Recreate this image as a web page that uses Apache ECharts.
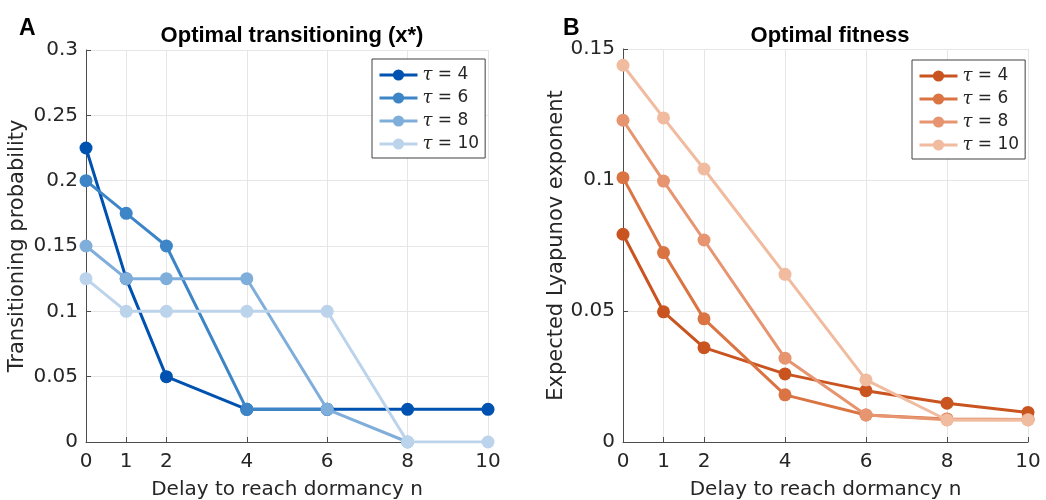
<!DOCTYPE html>
<html>
<head>
<meta charset="utf-8">
<script src="https://cdn.jsdelivr.net/npm/echarts@6/dist/echarts.min.js"></script>
<style>
  html, body { margin: 0; padding: 0; background: #fff; }
  #chart { width: 1046px; height: 500px; }
</style>
</head>
<body>
<div id="chart"></div>
<script>
// delay n values (x axis, same for both panels)
var nVals = [0, 1, 2, 4, 6, 8, 10];
var tauNames = ['τ = 4', 'τ = 6', 'τ = 8', 'τ = 10'];

// panel A: optimal transitioning probability x*
var probTau4 = [0.225, 0.125, 0.05, 0.025, 0.025, 0.025, 0.025];
var probTau6 = [0.2, 0.175, 0.15, 0.025, 0.025, null, null];
var probTau8 = [0.15, 0.125, 0.125, 0.125, 0.025, 0, null];
var probTau10 = [0.125, 0.1, 0.1, 0.1, 0.1, 0, 0];

// panel B: expected Lyapunov exponent
var fitTau4 = [0.0793, 0.0497, 0.036, 0.026, 0.0196, 0.0148, 0.0113];
var fitTau6 = [0.1009, 0.0723, 0.047, 0.018, 0.0103, 0.0088, 0.0086];
var fitTau8 = [0.1228, 0.0996, 0.0771, 0.032, 0.0103, 0.0085, 0.0085];
var fitTau10 = [0.1438, 0.1237, 0.1042, 0.064, 0.0237, 0.0084, 0.0084];

var blues = ['#0052b0', '#3d85c6', '#80aedb', '#bcd3ec'];
var oranges = ['#c9541f', '#da7443', '#e69570', '#f1bb9f'];

var FONT = '"DejaVu Sans", sans-serif';
var BOLD = '"Liberation Sans", Arial, sans-serif';
var chart = echarts.init(document.getElementById('chart'));

function pairs(arr) {
  return nVals.map(function (n, i) { return [n, arr[i]]; });
}

function xAxisOpt(idx) {
  return {
    type: 'value', gridIndex: idx, min: 0, max: 10,
    name: 'Delay to reach dormancy n', nameLocation: 'middle', nameGap: 38,
    nameTextStyle: { fontSize: 20, color: '#262626', fontFamily: FONT },
    axisLine: { lineStyle: { color: '#4d4d4d' } },
    axisTick: { inside: true, length: 5, customValues: nVals, lineStyle: { color: '#4d4d4d' } },
    axisLabel: { customValues: nVals, fontSize: 20, color: '#262626', fontFamily: FONT, margin: 10 },
    splitLine: { show: true, customValues: nVals, lineStyle: { color: '#e6e6e6' } }
  };
}

function yAxisOpt(idx, max, name, gap) {
  return {
    type: 'value', gridIndex: idx, min: 0, max: max, interval: 0.05,
    name: name, nameLocation: 'middle', nameGap: gap,
    nameTextStyle: { fontSize: 21, color: '#262626', fontFamily: FONT },
    axisLine: { show: true, lineStyle: { color: '#4d4d4d' } },
    axisTick: { show: true, inside: true, length: 5, lineStyle: { color: '#4d4d4d' } },
    axisLabel: { fontSize: 20, color: '#262626', fontFamily: FONT, margin: 8 },
    splitLine: { show: true, lineStyle: { color: '#e6e6e6' } }
  };
}

function lineSeries(name, idx, arr, color, z) {
  return {
    type: 'line', name: name, xAxisIndex: idx, yAxisIndex: idx,
    data: pairs(arr), z: z,
    symbol: 'circle', symbolSize: 13, showSymbol: true,
    itemStyle: { color: color },
    lineStyle: { color: color, width: 3 },
    emphasis: { disabled: true }
  };
}

function legendOpt(idx, left, top) {
  return {
    orient: 'vertical', left: left, top: top,
    data: tauNames.map(function (n) { return idx === 0 ? n : n + ' '; }),
    itemWidth: 38, itemHeight: 14, itemGap: 3,
    padding: [6, 6, 4, 6],
    borderColor: '#404040', borderWidth: 1, backgroundColor: '#fff',
    selectedMode: false,
    lineStyle: { width: 3 },
    formatter: function (name) {
      return '{t|τ} = ' + name.replace('τ = ', '').trim();
    },
    textStyle: {
      fontSize: 17, color: '#262626', fontFamily: FONT, lineHeight: 20,
      rich: { t: { fontStyle: 'italic', fontSize: 18, fontFamily: '"DejaVu Serif", serif', color: '#262626' } }
    }
  };
}

var series = [];
[probTau4, probTau6, probTau8, probTau10].forEach(function (arr, i) {
  series.push(lineSeries(tauNames[i], 0, arr, blues[i], 2 + i));
});
[fitTau4, fitTau6, fitTau8, fitTau10].forEach(function (arr, i) {
  series.push(lineSeries(tauNames[i] + ' ', 1, arr, oranges[i], 2 + i));
});

chart.setOption({
  animation: false,
  backgroundColor: '#fff',
  title: [
    { text: 'A', left: 14, top: 12, textStyle: { fontSize: 23, fontWeight: 'bold', color: '#000', fontFamily: BOLD } },
    { text: 'B', left: 558, top: 12, textStyle: { fontSize: 23, fontWeight: 'bold', color: '#000', fontFamily: BOLD } },
    { text: 'Optimal transitioning (x*)', left: 287, top: 20, textAlign: 'center',
      textStyle: { fontSize: 22, fontWeight: 'bold', color: '#000', fontFamily: BOLD } },
    { text: 'Optimal fitness', left: 825, top: 20, textAlign: 'center',
      textStyle: { fontSize: 22, fontWeight: 'bold', color: '#000', fontFamily: BOLD } }
  ],
  legend: [legendOpt(0, 372, 59), legendOpt(1, 912, 60)],
  grid: [
    { left: 86, top: 50, width: 402, height: 392, outerBoundsMode: 'none', containLabel: false },
    { left: 623, top: 49, width: 405, height: 393, outerBoundsMode: 'none', containLabel: false }
  ],
  xAxis: [xAxisOpt(0), xAxisOpt(1)],
  yAxis: [
    yAxisOpt(0, 0.3, 'Transitioning probability', 58),
    yAxisOpt(1, 0.15, 'Expected Lyapunov exponent', 55)
  ],
  series: series
});
</script>
</body>
</html>
